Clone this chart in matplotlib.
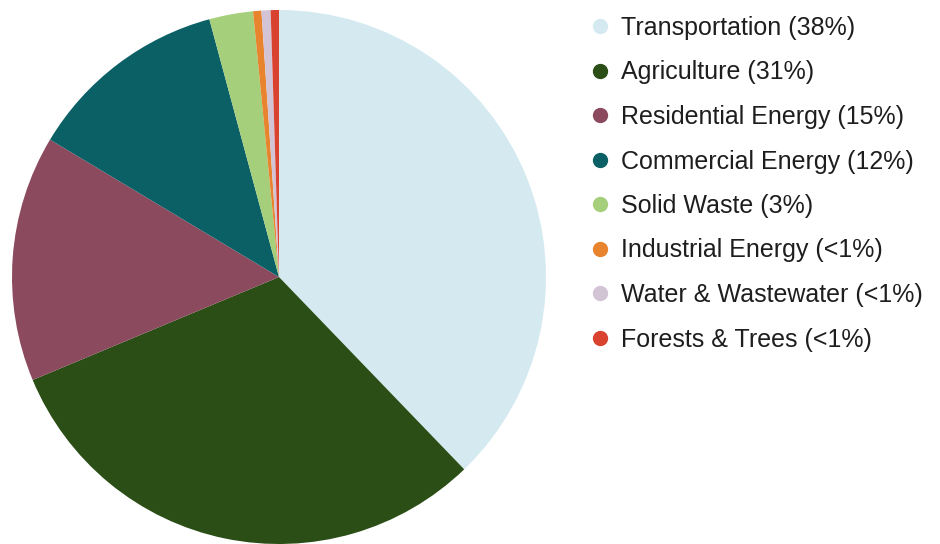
import matplotlib
matplotlib.use("Agg")
import matplotlib.pyplot as plt
from matplotlib.lines import Line2D

categories = ["Transportation (38%)", "Agriculture (31%)", "Residential Energy (15%)",
              "Commercial Energy (12%)", "Solid Waste (3%)", "Industrial Energy (<1%)",
              "Water & Wastewater (<1%)", "Forests & Trees (<1%)"]
values = [37.8, 30.9, 14.9, 12.2, 2.65, 0.5, 0.55, 0.5]
colors = ["#d4eaf0", "#2a4e15", "#8b4a5e", "#0b6066", "#a6cf7c", "#e8832e", "#d3c4d5", "#d9422f"]

plt.rcParams['font.family'] = ['Liberation Sans', 'DejaVu Sans']

W, H = 940, 544
fig = plt.figure(figsize=(W / 100, H / 100), dpi=100)
cx, cy, r = 279, 277, 267
ax = fig.add_axes([(cx - r) / W, (H - cy - r) / H, 2 * r / W, 2 * r / H])
ax.pie(values, colors=colors, startangle=90, counterclock=False, radius=1,
       wedgeprops=dict(linewidth=0))
ax.set_xlim(-1, 1)
ax.set_ylim(-1, 1)
ax.set_aspect('equal')
ax.axis('off')

handles = [Line2D([0], [0], marker='o', linestyle='none', markersize=10,
                  markerfacecolor=c, markeredgecolor=c) for c in colors]
fig.legend(handles, categories, loc='upper left', bbox_to_anchor=(587.5 / W, 1 - 16 / H),
           frameon=False, fontsize=18, labelspacing=0.82, handletextpad=0.34,
           handlelength=1.0, borderaxespad=0, borderpad=0, labelcolor='#1e1e1e')

fig.savefig("out.png", dpi=100)
